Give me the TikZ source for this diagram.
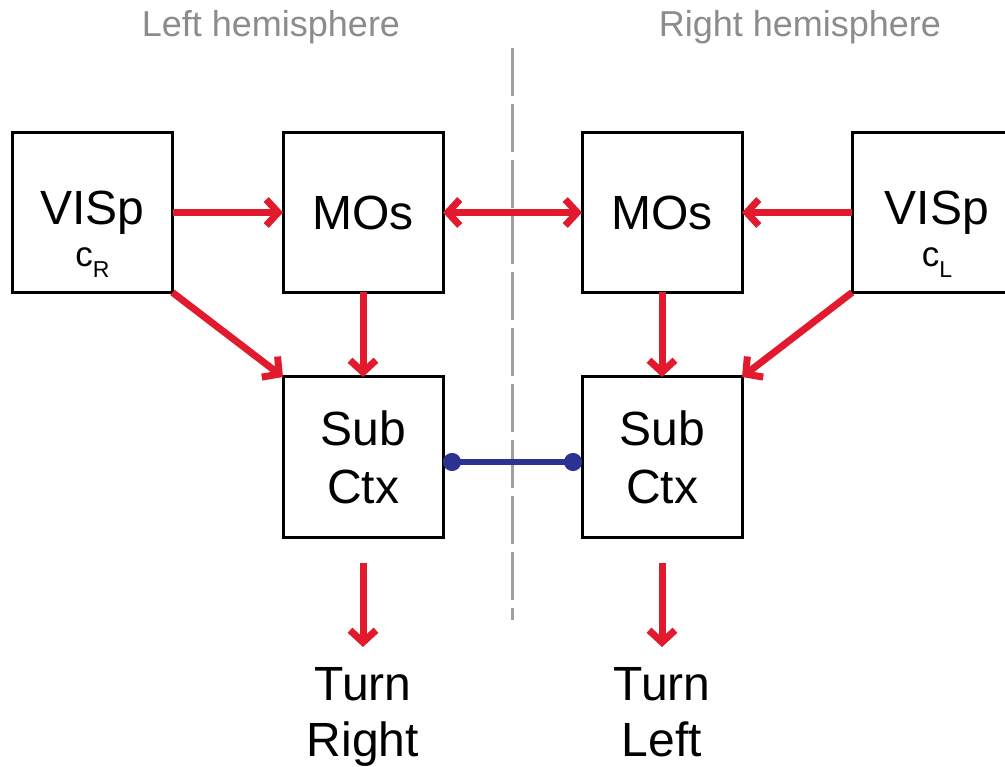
\documentclass[tikz,border=0pt]{standalone}
\usepackage{fontspec}
\setmainfont{Liberation Sans}
\usetikzlibrary{arrows.meta}
\definecolor{arrred}{RGB}{226,26,46}
\definecolor{linkblue}{RGB}{44,50,145}
\definecolor{titlegray}{RGB}{140,140,140}
\definecolor{divgray}{RGB}{160,160,160}
\tikzset{
  box/.style={draw, line width=3pt, minimum width=160pt, minimum height=160pt,
    inner sep=0pt, outer sep=0pt, align=center, font=\fontsize{48}{58}\selectfont},
  redarrow/.style={draw=arrred, line width=7pt,
    -{Straight Barb[length=12pt,width=26pt]}},
  redboth/.style={draw=arrred, line width=7pt,
    {Straight Barb[length=12pt,width=26pt]}-{Straight Barb[length=12pt,width=26pt]}},
  bluelink/.style={draw=linkblue, line width=6pt,
    {Circle[length=18pt]}-{Circle[length=18pt]}},
  divider/.style={draw=divgray, line width=3pt, dash pattern=on 48pt off 8pt},
  title/.style={text=titlegray, font=\fontsize{36}{42}\selectfont, anchor=base, inner sep=0pt},
  subtxt/.style={font=\fontsize{35}{40}\selectfont, anchor=base, inner sep=0pt},
  outtxt/.style={font=\fontsize{48}{56}\selectfont, align=center, inner sep=0pt, anchor=north}
}
\begin{document}
\begin{tikzpicture}[x=1pt,y=-1pt]
\useasboundingbox (0,0) rectangle (1005,767);
\clip (0,0) rectangle (1005,767);

% titles
\node[title] (tl) at (271,37) {Left hemisphere};
\node[title] (trh) at (800,37) {Right hemisphere};

% divider
\coordinate (dtop) at (512,48);
\coordinate (dbot) at (512,620);
\draw[divider] (dtop) -- (dbot);

% boxes
\node[box] (lv) at (92.5,212.5) {VISp};
\node[box] (lm) at (363,212.5) {MOs};
\node[box] (rm) at (662,212.5) {MOs};
\node[box, minimum width=170pt] (rv) at (937,212.5) {VISp};
\node[box] (ls) at (363,457) {Sub\\Ctx};
\node[box] (rs) at (662,457) {Sub\\Ctx};

% subscripts
\node[subtxt] (cR) at (92.5,267) {c\raisebox{-11pt}{\fontsize{23}{23}\selectfont R}};
\node[subtxt] (cL) at (937,267) {c\raisebox{-11pt}{\fontsize{23}{23}\selectfont L}};

% outputs
\node[outtxt] (tright) at (363,667) {Turn\\Right};
\node[outtxt] (tleft) at (662,667) {Turn\\Left};

% connectors
\draw[redarrow] (lv.east) -- (lm.west);
\draw[redboth] (lm.east) -- (rm.west);
\draw[redarrow] (rv.west) -- (rm.east);
\draw[redarrow] (lv.south east) -- (ls.north west);
\draw[redarrow] (rv.south west) -- (rs.north east);
\draw[redarrow] (lm.south) -- (ls.north);
\draw[redarrow] (rm.south) -- (rs.north);
\draw[redarrow, shorten <=26pt, shorten >=20pt] (ls.south) -- (tright.north);
\draw[redarrow, shorten <=26pt, shorten >=20pt] (rs.south) -- (tleft.north);
\draw[bluelink] ([yshift=-5pt]ls.east) -- ([yshift=-5pt]rs.west);
\end{tikzpicture}
\end{document}
